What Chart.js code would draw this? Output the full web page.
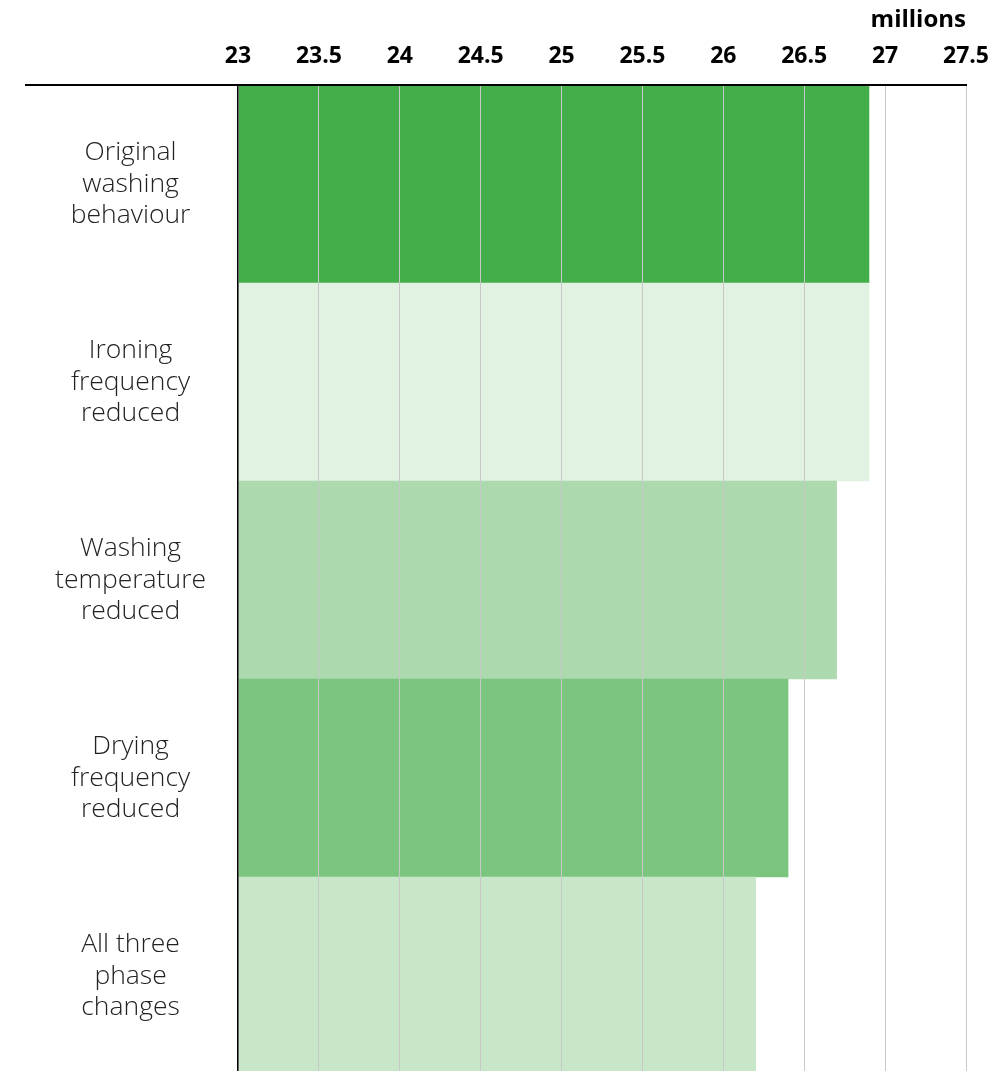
<!DOCTYPE html>
<html>
<head>
<meta charset="utf-8">
<script src="https://cdn.jsdelivr.net/npm/chart.js@4"></script>
<style>
  html, body { margin: 0; padding: 0; background: #fff; overflow: hidden; }
  #wrap { width: 994px; height: 1075px; position: relative; }
</style>
</head>
<body>
<div id="wrap"><canvas id="c"></canvas></div>
<script>
const categories = [
  ['Original', 'washing', 'behaviour'],
  ['Ironing', 'frequency', 'reduced'],
  ['Washing', 'temperature', 'reduced'],
  ['Drying', 'frequency', 'reduced'],
  ['All three', 'phase', 'changes']
];
const values = [26.9, 26.9, 26.7, 26.4, 26.2];
const barColors = ['#43ae4a', '#e1f2e3', '#acd9ae', '#7cc57f', '#c8e7c9'];
const axisMin = 23;
const axisMax = 27.5;
const axisStep = 0.5;
const axisTitle = 'millions';

const extendAxisLine = {
  id: 'extendAxisLine',
  afterDraw(chart) {
    const ctx = chart.ctx;
    const top = chart.chartArea.top;
    ctx.save();
    ctx.strokeStyle = '#000';
    ctx.lineWidth = 2;
    ctx.beginPath();
    ctx.moveTo(25, top);
    ctx.lineTo(chart.chartArea.left, top);
    ctx.stroke();
    ctx.restore();
  }
};

new Chart(document.getElementById('c'), {
  type: 'bar',
  data: {
    labels: categories,
    datasets: [{
      data: values,
      backgroundColor: barColors,
      borderWidth: 0,
      barPercentage: 1,
      categoryPercentage: 1
    }]
  },
  plugins: [extendAxisLine],
  options: {
    indexAxis: 'y',
    responsive: true,
    maintainAspectRatio: false,
    animation: false,
    layout: { padding: { left: 0, right: 28, top: 0, bottom: 0 } },
    plugins: { legend: { display: false }, tooltip: { enabled: false } },
    scales: {
      x: {
        position: 'top',
        min: axisMin,
        max: axisMax,
        ticks: {
          stepSize: axisStep,
          color: '#000',
          padding: 15,
          font: { family: '"Open Sans", sans-serif', size: 23, weight: 'bold' },
          callback: (v) => String(Number(Number(v).toFixed(1)))
        },
        grid: { color: '#c8c8c8', lineWidth: 1, drawTicks: false, z: 1 },
        border: { display: true, color: '#000', width: 2, z: 1 },
        title: {
          display: true,
          text: axisTitle,
          align: 'end',
          color: '#000',
          padding: { top: 6, bottom: 0 },
          font: { family: '"Open Sans", sans-serif', size: 24, weight: 'bold' }
        },
        afterFit(scale) {
          scale.height = 85;
          scale.paddingLeft = 0;
          scale.paddingRight = 0;
        }
      },
      y: {
        ticks: {
          color: '#222',
          crossAlign: 'center',
          padding: 32,
          font: { family: '"Open Sans", sans-serif', size: 26.5, weight: 300, lineHeight: 1.19 }
        },
        grid: { display: false, drawTicks: false },
        border: { display: true, color: '#000', width: 1.5, z: 2 },
        afterFit(scale) {
          scale.width = 238;
          scale.paddingTop = 0;
          scale.paddingBottom = 0;
        }
      }
    }
  }
});
</script>
</body>
</html>
